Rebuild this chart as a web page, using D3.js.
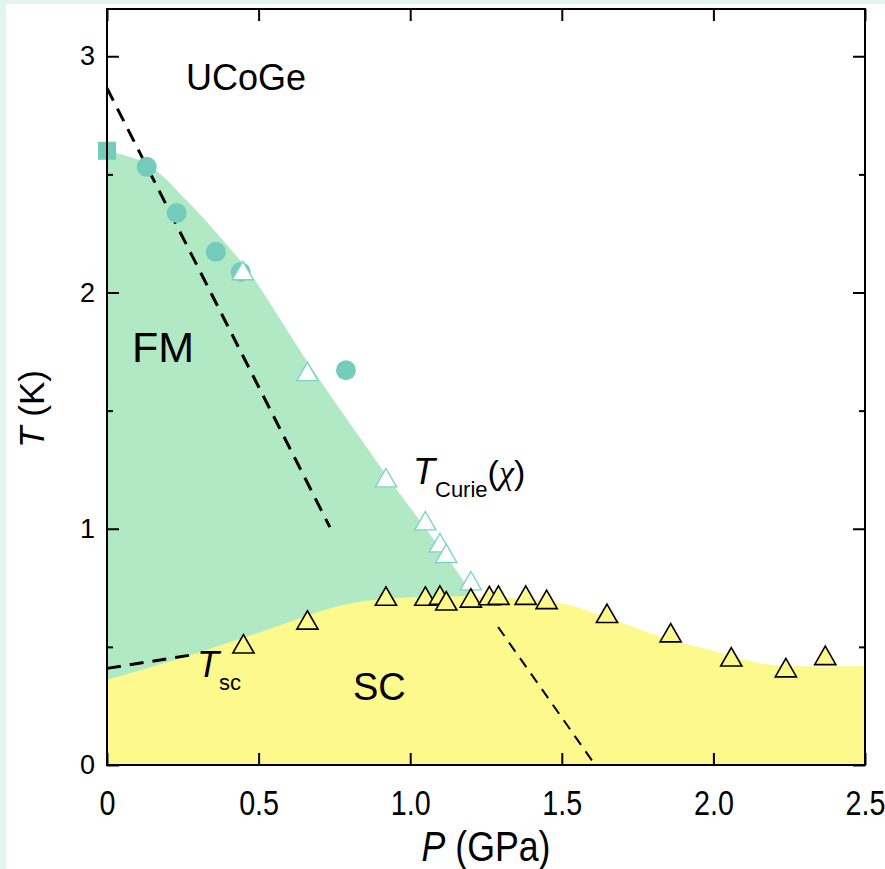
<!DOCTYPE html>
<html>
<head>
<meta charset="utf-8">
<script src="https://cdn.jsdelivr.net/npm/d3@7"></script>
<style>
  body { margin: 0; background: #ffffff; }
  svg text { font-family: "Liberation Sans", Arial, sans-serif; fill: #000; }
</style>
</head>
<body>
<div id="chart"></div>
<script>
// ---- data (P in GPa, T in K) ----
const squareP = [0];
const squareT = [2.60];

const circleP = [0.131, 0.230, 0.359, 0.441, 0.788];
const circleT = [2.532, 2.337, 2.172, 2.087, 1.671];

const curieP = [0.448, 0.661, 0.920, 1.050, 1.098, 1.119, 1.200];
const curieT = [2.093, 1.666, 1.216, 1.034, 0.941, 0.896, 0.780];

const scP = [0.450, 0.661, 0.920, 1.050, 1.098, 1.119, 1.200, 1.261, 1.291, 1.381, 1.450, 1.649, 1.859, 2.059, 2.239, 2.369];
const scT = [0.513, 0.614, 0.715, 0.715, 0.719, 0.695, 0.707, 0.717, 0.719, 0.719, 0.701, 0.642, 0.560, 0.458, 0.412, 0.464];

// shaded phase regions (upper boundaries)
const fmEdgeP = [0, 0.13, 0.27, 0.41, 0.47, 0.67, 0.92, 1.17, 1.215];
const fmEdgeT = [2.60, 2.545, 2.38, 2.18, 2.085, 1.69, 1.23, 0.79, 0.69];
const scEdgeP = [0, 0.25, 0.5, 0.79, 1.0, 1.3, 1.5, 1.66, 1.82, 1.99, 2.15, 2.26, 2.5];
const scEdgeT = [0.36, 0.455, 0.56, 0.68, 0.71, 0.71, 0.685, 0.62, 0.545, 0.487, 0.432, 0.419, 0.419];

// dashed guide lines
const curieGuideP = [0, 0.735];
const curieGuideT = [2.865, 1.007];
const tscGuideP = [0, 0.30];
const tscGuideT = [0.409, 0.47];
const slopeGuideP = [1.29, 1.61];
const slopeGuideT = [0.584, 0];

// axes
const xTicks = [0, 0.5, 1.0, 1.5, 2.0, 2.5];
const xTickLabels = ["0", "0.5", "1.0", "1.5", "2.0", "2.5"];
const yTicks = [0, 1, 2, 3];
const yMinorTicks = [0.5, 1.5, 2.5];

const zip = (a, b) => a.map((v, i) => [v, b[i]]);

const W = 885, H = 869;
const layout = { left: 107, top: 9, right: 865, bottom: 765 };

const svg = d3.select("#chart").append("svg")
    .attr("width", W)
    .attr("height", H);

// page background with the thin mint border
svg.append("rect").attr("width", W).attr("height", H).attr("fill", "#e1f6f1");
svg.append("rect").attr("x", 6).attr("y", 4).attr("width", W - 6).attr("height", H - 4).attr("fill", "#ffffff");

const x = d3.scaleLinear().domain([0, 2.5]).range([layout.left, layout.right]);
const y = d3.scaleLinear().domain([0, 3.2]).range([layout.bottom, layout.top]);

const plot = svg.append("g");

const region = d3.area()
    .curve(d3.curveCatmullRom)
    .x(d => x(d[0]))
    .y0(y(0))
    .y1(d => y(d[1]));

// FM region
plot.append("path")
    .datum(zip(fmEdgeP, fmEdgeT))
    .attr("d", region)
    .attr("fill", "#b1e9c5");

// SC region
plot.append("path")
    .datum(zip(scEdgeP, scEdgeT))
    .attr("d", region)
    .attr("fill", "#fdf98d");

// dashed lines
const line = d3.line().x(d => x(d[0])).y(d => y(d[1]));
plot.append("path")
    .attr("d", line(zip(curieGuideP, curieGuideT)))
    .attr("stroke", "#000").attr("stroke-width", 3).attr("stroke-dasharray", "14,9").attr("fill", "none");
plot.append("path")
    .attr("d", line(zip(tscGuideP, tscGuideT)))
    .attr("stroke", "#000").attr("stroke-width", 3).attr("stroke-dasharray", "14,9").attr("fill", "none");
plot.append("path")
    .attr("d", line(zip(slopeGuideP, slopeGuideT)))
    .attr("stroke", "#000").attr("stroke-width", 2).attr("stroke-dasharray", "11,8").attr("fill", "none");

// markers
const tri = "M0,-9.2L10.6,9.2L-10.6,9.2Z";
const teal = "#76ccbc";

plot.selectAll(".sq").data(zip(squareP, squareT)).join("rect")
    .attr("x", d => x(d[0]) - 9).attr("y", d => y(d[1]) - 9)
    .attr("width", 18).attr("height", 18)
    .attr("fill", teal);

plot.selectAll(".circ").data(zip(circleP, circleT)).join("circle")
    .attr("cx", d => x(d[0])).attr("cy", d => y(d[1]))
    .attr("r", 10)
    .attr("fill", teal);

plot.selectAll(".curie").data(zip(curieP, curieT)).join("path")
    .attr("d", tri)
    .attr("transform", d => `translate(${x(d[0])},${y(d[1])})`)
    .attr("fill", "#ffffff").attr("stroke", "#7fd3c3").attr("stroke-width", 1.4);

plot.selectAll(".sc").data(zip(scP, scT)).join("path")
    .attr("d", tri)
    .attr("transform", d => `translate(${x(d[0])},${y(d[1])})`)
    .attr("fill", "#fdf98d").attr("stroke", "#000").attr("stroke-width", 1.6);

// axes
const customAxis = function(g) {
    g.select(".domain").remove();
    g.selectAll(".tick line").attr("stroke", "#000").attr("stroke-width", 2);
};

svg.append("g")
    .attr("transform", `translate(0,${layout.bottom})`)
    .call(d3.axisBottom(x).tickValues(xTicks).tickSize(-12).tickPadding(25)
        .tickFormat((d, i) => xTickLabels[i]))
    .call(customAxis)
    .call(g => g.selectAll("text")
        .attr("font-size", 35).attr("fill", "#000")
        .attr("transform", "scale(0.82,1)"));

svg.append("g")
    .attr("transform", `translate(0,${layout.top})`)
    .call(d3.axisTop(x).tickValues(xTicks).tickSize(-12).tickFormat(""))
    .call(customAxis);

svg.append("g")
    .attr("transform", `translate(${layout.left},0)`)
    .call(d3.axisLeft(y).tickValues(yTicks).tickSize(-12).tickPadding(12).tickFormat(d3.format("d")))
    .call(customAxis)
    .call(g => g.selectAll("text").attr("font-size", 27).attr("fill", "#000"));

svg.append("g")
    .attr("transform", `translate(${layout.left},0)`)
    .call(d3.axisLeft(y).tickValues(yMinorTicks).tickSize(-6).tickFormat(""))
    .call(customAxis);

svg.append("g")
    .attr("transform", `translate(${layout.right},0)`)
    .call(d3.axisRight(y).tickValues(yTicks).tickSize(-12).tickFormat(""))
    .call(customAxis);

svg.append("g")
    .attr("transform", `translate(${layout.right},0)`)
    .call(d3.axisRight(y).tickValues(yMinorTicks).tickSize(-6).tickFormat(""))
    .call(customAxis);

// frame
svg.append("rect")
    .attr("x", layout.left).attr("y", layout.top)
    .attr("width", layout.right - layout.left).attr("height", layout.bottom - layout.top)
    .attr("fill", "none").attr("stroke", "#000").attr("stroke-width", 2);

// axis titles
const xt = svg.append("text")
    .attr("transform", `translate(486,861) scale(0.85,1)`)
    .attr("text-anchor", "middle").attr("font-size", 42);
xt.append("tspan").attr("font-style", "italic").text("P");
xt.append("tspan").text(" (GPa)");

const yt = svg.append("text")
    .attr("transform", `translate(44,${(layout.top + layout.bottom) / 2 + 22}) rotate(-90)`)
    .attr("text-anchor", "middle").attr("font-size", 35);
yt.append("tspan").attr("font-style", "italic").text("T");
yt.append("tspan").text(" (K)");

// annotations
svg.append("text").attr("x", 186).attr("y", 90).attr("font-size", 36).text("UCoGe");
svg.append("text").attr("x", 132).attr("y", 362).attr("font-size", 43).text("FM");
svg.append("text").attr("x", 353).attr("y", 700).attr("font-size", 38).text("SC");

const tc = svg.append("text").attr("x", 413).attr("y", 484);
tc.append("tspan").attr("font-size", 36).attr("font-style", "italic").text("T");
tc.append("tspan").attr("font-size", 22).attr("dy", 13).text("Curie");
tc.append("tspan").attr("font-size", 34).attr("dy", -13).text("(");
tc.append("tspan").attr("font-size", 34).attr("font-style", "italic")
    .attr("font-family", "'Liberation Serif', serif").text("χ");
tc.append("tspan").attr("font-size", 34).text(")");

const ts = svg.append("text").attr("x", 197).attr("y", 677);
ts.append("tspan").attr("font-size", 36).attr("font-style", "italic").text("T");
ts.append("tspan").attr("font-size", 22).attr("dy", 13).text("sc");
</script>
</body>
</html>
